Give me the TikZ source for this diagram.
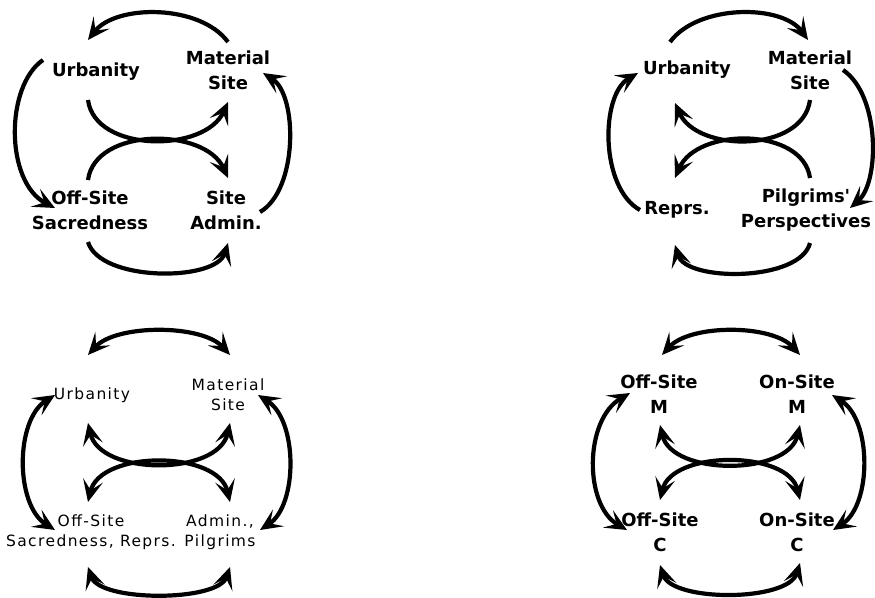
\documentclass[tikz,border=0pt]{standalone}
\usepackage{fontspec}
\setmainfont{DejaVu Sans}
\usetikzlibrary{arrows.meta}
\newcommand\myarc[6]{\coordinate (#1s) at #3; \coordinate (#1e) at #6; \draw[#2] (#1s) .. controls #4 and #5 .. (#1e);}
\tikzset{bigtip/.tip={Stealth[length=22pt,width=20pt,inset=10pt]}}
\begin{document}
\begin{tikzpicture}[x=1pt,y=-1pt,
  arcline/.style={line width=4.2pt},
  one/.style={arcline,-bigtip},
  both/.style={arcline,bigtip-bigtip},
  bl/.style={font=\bfseries\fontsize{18}{25}\selectfont,align=center,inner sep=0pt},
  rl/.style={font=\addfontfeatures{LetterSpace=9}\fontsize{15.5}{20}\selectfont,align=center,inner sep=0pt}]
\useasboundingbox (0,0) rectangle (875,597);
% ---------- Quadrant 1 ----------
\node[bl] (q1u) at (96,72) {Urbanity};
\node[bl] (q1m) at (228,70) {Material\\Site};
\node[bl] (q1o) at (90,210) {Off-Site\\Sacredness};
\node[bl] (q1a) at (226,210) {Site\\Admin.};
\myarc{q1t}{one}{(228,42)}{(200,4)}{(116,4)}{(88,40)}
\myarc{q1l}{one}{(43,60)}{(5,86)}{(5,182)}{(55,208)}
\myarc{q1r}{one}{(260,212)}{(298,190)}{(298,95)}{(263,73)}
\myarc{q1mu}{one}{(88,100)}{(95,153)}{(205,153)}{(228,102)}
\myarc{q1ml}{one}{(88,180)}{(95,127)}{(205,127)}{(228,178)}
\myarc{q1b}{one}{(88,242)}{(100,282)}{(216,282)}{(228,243)}
% ---------- Quadrant 2 ----------
\node[bl] (q2u) at (687,70) {Urbanity};
\node[bl] (q2m) at (810,70) {Material\\Site};
\node[bl] (q2r) at (677,210) {Reprs.};
\node[bl] (q2p) at (806,210) {Pilgrims\textquotesingle\\Perspectives};
\myarc{q2t}{one}{(670,42)}{(698,4)}{(782,4)}{(808,40)}
\myarc{q2rr}{one}{(843,70)}{(880,95)}{(880,182)}{(850,208)}
\myarc{q2l}{one}{(640,210)}{(600,188)}{(600,95)}{(638,73)}
\myarc{q2mu}{one}{(810,100)}{(803,153)}{(697,153)}{(675,103)}
\myarc{q2ml}{one}{(810,178)}{(803,127)}{(697,127)}{(675,178)}
\myarc{q2b}{one}{(810,243)}{(800,282)}{(686,282)}{(675,245)}
% ---------- Quadrant 3 ----------
\node[rl] (q3u) at (92,395) {Urbanity};
\node[rl] (q3m) at (228,395) {Material\\Site};
\node[rl] (q3o) at (91,532) {Off-Site\\Sacredness, Reprs.};
\node[rl] (q3a) at (220,532) {Admin.,\\Pilgrims};
\myarc{q3t}{both}{(88,355)}{(116,324)}{(202,324)}{(230,355)}
\myarc{q3l}{both}{(55,395)}{(15,420)}{(15,505)}{(55,530)}
\myarc{q3r}{both}{(258,395)}{(298,420)}{(298,505)}{(260,530)}
\myarc{q3mu}{both}{(88,423)}{(100,476)}{(218,476)}{(230,423)}
\myarc{q3ml}{both}{(88,502)}{(100,450)}{(218,450)}{(230,502)}
\myarc{q3b}{both}{(88,567)}{(100,602)}{(218,602)}{(230,567)}
% ---------- Quadrant 4 ----------
\node[bl] (q4a) at (659,394) {Off-Site\\M};
\node[bl] (q4b) at (797,394) {On-Site\\M};
\node[bl] (q4c) at (660,532) {Off-Site\\C};
\node[bl] (q4d) at (797,532) {On-Site\\C};
\myarc{q4t}{both}{(662,355)}{(690,324)}{(772,324)}{(800,355)}
\myarc{q4l}{both}{(630,393)}{(584,420)}{(584,505)}{(627,530)}
\myarc{q4r}{both}{(832,395)}{(872,420)}{(872,505)}{(833,530)}
\myarc{q4mu}{both}{(660,425)}{(672,476)}{(788,476)}{(800,425)}
\myarc{q4ml}{both}{(660,500)}{(672,450)}{(788,450)}{(800,500)}
\myarc{q4b}{both}{(660,565)}{(672,602)}{(788,602)}{(800,563)}
\end{tikzpicture}
\end{document}
